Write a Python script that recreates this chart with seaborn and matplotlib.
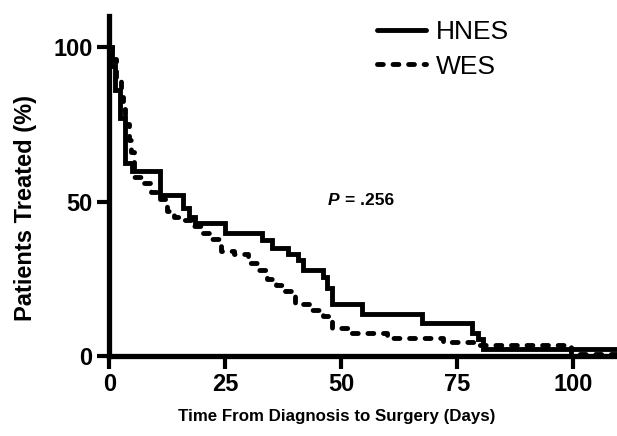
import pandas as pd
import matplotlib.pyplot as plt
import seaborn as sns

# step points of the two curves (days, % patients still untreated)
hnes_days = [0, 0.5, 1.3, 2.4, 3.4, 5, 11, 16, 17.2, 18.5, 25, 33, 35, 38.5, 40.7,
             41.8, 46, 47, 48, 54.5, 67.5, 78.2, 79.5, 80.7, 110]
hnes_pct = [100, 94, 86, 77, 62.5, 60, 52, 48, 45, 43, 40, 37.5, 35, 33, 31,
            28, 25.5, 22, 17, 13.7, 10.8, 7.5, 5.5, 2.2, 2.2]

wes_days = [0, 0.5, 1.5, 2.5, 3.0, 3.5, 4.2, 4.8, 5.3, 7, 9, 11, 12.5, 14, 16, 18,
            20, 22, 24, 27, 30, 32, 34, 36, 38, 40, 43, 46, 48, 52, 60, 72, 79,
            99.5, 110]
wes_pct = [100, 96, 90, 84, 80, 75, 70, 66, 58, 56, 53, 51, 47, 45, 44, 42,
           40, 38, 34, 33, 30, 28, 25, 23, 21, 17, 15, 13, 9, 7.5, 6, 4.5, 3.5,
           0.8, 0.8]

x_ticks = [0, 25, 50, 75, 100]
y_ticks = [0, 50, 100]

hnes = pd.DataFrame({"days": hnes_days, "pct": hnes_pct})
wes = pd.DataFrame({"days": wes_days, "pct": wes_pct})

sns.set_theme(style="ticks")
plt.rcParams["font.family"] = ["Liberation Sans", "DejaVu Sans"]
plt.rcParams["text.color"] = "black"
plt.rcParams["axes.labelcolor"] = "black"
plt.rcParams["xtick.color"] = "black"
plt.rcParams["ytick.color"] = "black"

fig = plt.figure(figsize=(6.17, 4.36), dpi=100)
ax = fig.add_axes([0.177, 0.183, 0.823, 0.78])

lw = 3.5
sns.lineplot(data=hnes, x="days", y="pct", ax=ax, color="black", lw=lw,
             drawstyle="steps-post", estimator=None, sort=False,
             label="HNES", solid_joinstyle="miter")
sns.lineplot(data=wes, x="days", y="pct", ax=ax, color="black", lw=lw,
             drawstyle="steps-post", estimator=None, sort=False,
             label="WES", linestyle=(0, (1.2, 2)), dash_capstyle="round")

ax.set_xlim(0, 109.5)
ax.set_ylim(0, 110)
ax.set_xticks(x_ticks)
ax.set_yticks(y_ticks)
ax.tick_params(axis="both", length=9, width=3, direction="out",
               labelsize=17, pad=3)
for lab in ax.get_xticklabels() + ax.get_yticklabels():
    lab.set_fontweight("bold")

sns.despine(ax=ax)
for side in ["left", "bottom"]:
    ax.spines[side].set_linewidth(3.8)
    ax.spines[side].set_color("black")
ax.spines["left"].set_bounds(0, 110)

ax.set_xlabel("Time From Diagnosis to Surgery (Days)", fontsize=12.2,
              fontweight="bold")
ax.xaxis.set_label_coords(0.447, -0.155)
ax.set_ylabel("Patients Treated (%)", fontsize=17, fontweight="bold")
ax.yaxis.set_label_coords(-0.142, 0.435)

ax.text(47.2, 50.5, "P", fontsize=12.5, fontweight="bold", style="italic",
        ha="left", va="center")
ax.text(50.9, 50.5, "= .256", fontsize=12.5, fontweight="bold",
        ha="left", va="center")

leg = ax.legend(loc="upper left", bbox_to_anchor=(377 / 617, 1 - 20 / 436),
                bbox_transform=fig.transFigure, frameon=False, fontsize=19,
                handlelength=1.85, handletextpad=0.4, labelspacing=0.4,
                borderpad=0, borderaxespad=0)

fig.savefig("out.png", dpi=100)
